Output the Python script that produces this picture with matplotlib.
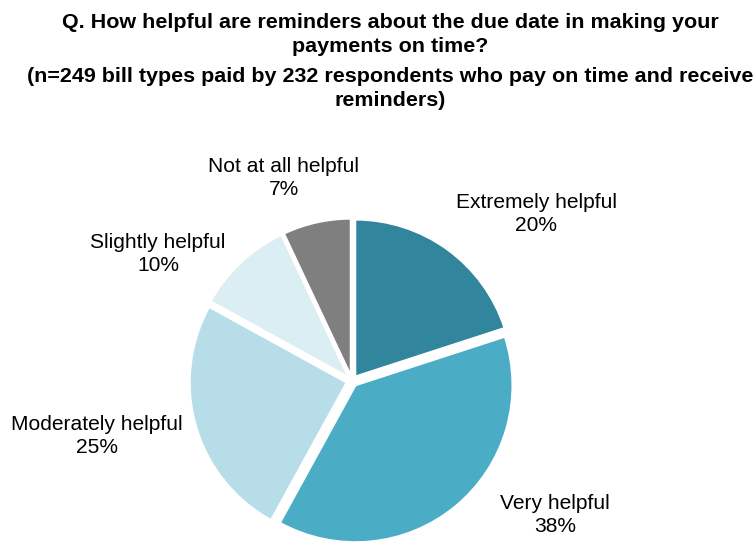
"""Pie chart: how helpful are due-date reminders for paying on time."""

import matplotlib
matplotlib.use("Agg")
import matplotlib.pyplot as plt

categories = ["Extremely helpful", "Very helpful", "Moderately helpful",
              "Slightly helpful", "Not at all helpful"]
shares = [20, 38, 25, 10, 7]
colors = ["#31859C", "#4BACC6", "#B7DEE8", "#DBEEF4", "#7F7F7F"]

title_lines = [
    "Q. How helpful are reminders about the due date in making your",
    "payments on time?",
    "(n=249 bill types paid by 232 respondents who pay on time and receive",
    "reminders)",
]

W, H, DPI = 754, 542, 100
FONT = ["Liberation Sans", "DejaVu Sans"]


def px_pt(px):
    return px * 72 / DPI


fig = plt.figure(figsize=(W / DPI, H / DPI), dpi=DPI)

# pie centre and radius in pixels (top-left origin)
cx, cy, r_px = 352, 381, 157
half = 200
ax = fig.add_axes([(cx - half) / W, (H - cy - half) / H, 2 * half / W, 2 * half / H])
ax.pie(shares, colors=colors, startangle=90, counterclock=False,
       explode=[0.035] * len(shares), radius=1,
       wedgeprops=dict(edgecolor="white", linewidth=1.5))
lim = half / r_px
ax.set_xlim(-lim, lim)
ax.set_ylim(-lim, lim)
ax.axis("off")

label_xy = [(536, 214), (555, 515), (97, 436), (158, 254), (284, 178)]
for cat, share, (lx, ly) in zip(categories, shares, label_xy):
    fig.text(lx / W, 1 - ly / H, f"{cat}\n{share}%", ha="center", va="center",
             fontsize=px_pt(21), family=FONT, linespacing=1.25, color="black")

baselines = [28, 52, 82, 106]
for line, yb in zip(title_lines, baselines):
    fig.text(390 / W, 1 - yb / H, line, ha="center", va="baseline",
             fontsize=px_pt(21.5), fontweight="bold", family=FONT)

fig.savefig("out.png", dpi=DPI)
